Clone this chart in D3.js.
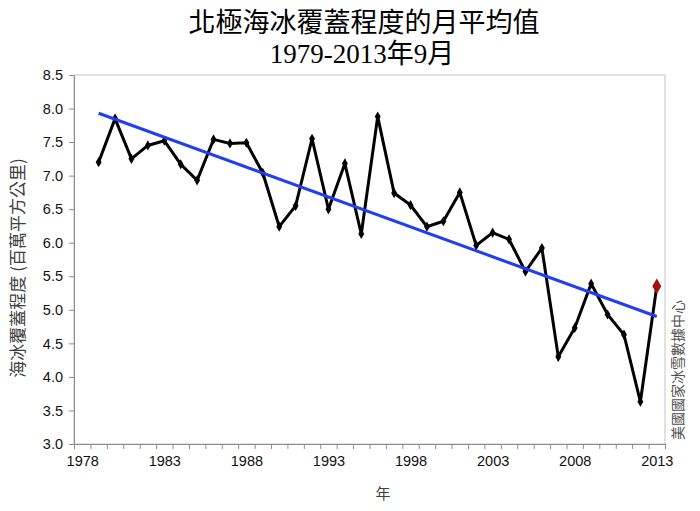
<!DOCTYPE html>
<html><head><meta charset="utf-8">
<script src="https://cdn.jsdelivr.net/npm/d3@7"></script>
<style>
html,body{margin:0;padding:0;background:#fff;}
svg{display:block;}
</style>
</head><body>
<svg id="chart" width="700" height="511"></svg>
<script>
const years = [1979,1980,1981,1982,1983,1984,1985,1986,1987,1988,1989,1990,1991,1992,1993,1994,1995,1996,1997,1998,1999,2000,2001,2002,2003,2004,2005,2006,2007,2008,2009,2010,2011,2012,2013];
const extent = [7.20,7.85,7.25,7.45,7.52,7.17,6.93,7.54,7.48,7.49,7.04,6.24,6.55,7.55,6.50,7.18,6.13,7.88,6.74,6.56,6.24,6.32,6.75,5.96,6.15,6.05,5.57,5.92,4.30,4.73,5.39,4.93,4.63,3.63,5.35];
const trendYears = [1979, 2013];
const trendValues = [7.93, 4.90];
const yTicks = [3.0,3.5,4.0,4.5,5.0,5.5,6.0,6.5,7.0,7.5,8.0,8.5];
const xTickLabels = [1978,1983,1988,1993,1998,2003,2008,2013];
const titleLines = ["北極海冰覆蓋程度的月平均值", "1979-2013年9月"];
const yTitle = "海冰覆蓋程度 (百萬平方公里)";
const xTitle = "年";
const sourceText = "美國國家冰雪數據中心";

const svg = d3.select("#chart");
const L = 74, R = 665, T = 75, B = 444;
const x = d3.scaleLinear().domain([1977.5, 2013.5]).range([L, R]);
const y = d3.scaleLinear().domain([3.0, 8.5]).range([B, T]);

// plot border
svg.append("rect").attr("x", L).attr("y", T).attr("width", R - L).attr("height", B - T)
  .attr("fill", "none").attr("stroke", "#c4c4c4").attr("stroke-width", 1);

// y axis
const gy = svg.append("g").attr("transform", `translate(${L},0)`)
  .call(d3.axisLeft(y).tickValues(yTicks).tickSize(5).tickPadding(6).tickFormat(d3.format(".1f")));
gy.selectAll("path,line").attr("stroke", "#8c8c8c");
gy.selectAll("text").attr("font-family", "Liberation Sans, Arial, sans-serif").attr("font-size", "14.5px").attr("fill", "#111");

// x axis minor ticks
const minor = d3.range(1977.5, 2014, 1);
const gx = svg.append("g").attr("transform", `translate(0,${B})`)
  .call(d3.axisBottom(x).tickValues(minor).tickSize(5).tickFormat(""));
gx.selectAll("path,line").attr("stroke", "#8c8c8c");

// x axis labels
const gxl = svg.append("g").attr("transform", `translate(0,${B})`)
  .call(d3.axisBottom(x).tickValues(xTickLabels).tickSize(0).tickPadding(12).tickFormat(d3.format("d")));
gxl.select(".domain").remove();
gxl.selectAll("text").attr("font-family", "Liberation Sans, Arial, sans-serif").attr("font-size", "14.5px").attr("fill", "#111");

// data line
const line = d3.line().x((d, i) => x(years[i])).y(d => y(d));
svg.append("path").datum(extent).attr("d", line).attr("fill", "none")
  .attr("stroke", "#000").attr("stroke-width", 3).attr("stroke-linejoin", "miter");

// markers
const diamond = d3.symbol().type(d3.symbolDiamond);
svg.append("g").selectAll("path").data(extent.slice(0, -1)).join("path")
  .attr("d", diamond.size(30)())
  .attr("transform", (d, i) => `translate(${x(years[i])},${y(d)})`)
  .attr("fill", "#000");
const lastI = extent.length - 1;
svg.append("path").attr("d", d3.symbol().type(d3.symbolDiamond).size(70)())
  .attr("transform", `translate(${x(years[lastI])},${y(extent[lastI])})`)
  .attr("fill", "#a01010");

// trend line
const tline = d3.line().x((d, i) => x(trendYears[i])).y(d => y(d));
svg.append("path").datum(trendValues).attr("d", tline).attr("fill", "none")
  .attr("stroke", "#1f3ff0").attr("stroke-width", 3);

// titles
svg.append("text").attr("x", 364).attr("y", 32).attr("text-anchor", "middle")
  .attr("font-family", "Noto Sans CJK TC, sans-serif").attr("font-size", "27px").attr("fill", "#000")
  .text(titleLines[0]);
svg.append("text").attr("x", 362).attr("y", 63).attr("text-anchor", "middle")
  .attr("font-family", "Liberation Serif, Noto Sans CJK TC, serif").attr("font-size", "27px").attr("fill", "#000")
  .text(titleLines[1]);

// y title
svg.append("text").attr("transform", "translate(24,268) rotate(-90)").attr("text-anchor", "middle")
  .attr("font-family", "Noto Sans CJK TC, sans-serif").attr("font-size", "17px").attr("fill", "#404040")
  .text(yTitle);

// x title
svg.append("text").attr("x", 383).attr("y", 499).attr("text-anchor", "middle")
  .attr("font-family", "Noto Sans CJK TC, sans-serif").attr("font-size", "15px").attr("fill", "#404040")
  .text(xTitle);

// source
svg.append("text").attr("transform", "translate(683,370) rotate(-90)").attr("text-anchor", "middle")
  .attr("font-family", "Noto Sans CJK TC, sans-serif").attr("font-size", "14px").attr("fill", "#505050")
  .text(sourceText);
</script>
</body></html>
